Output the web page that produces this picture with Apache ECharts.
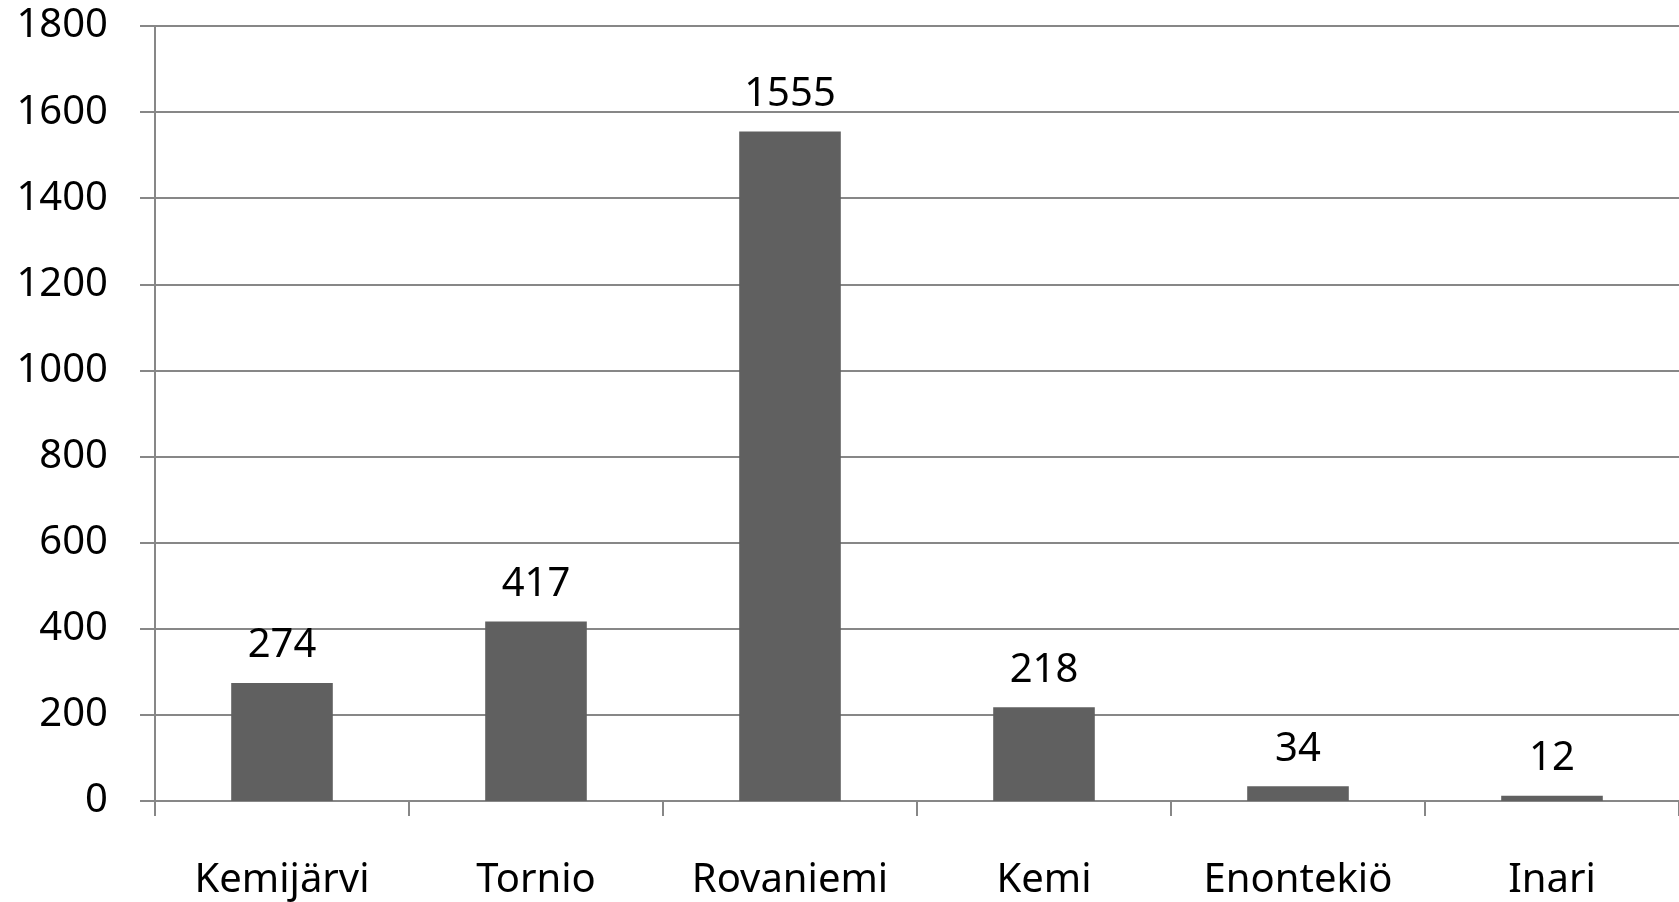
<!DOCTYPE html>
<html>
<head>
<meta charset="utf-8">
<style>
  html, body { margin: 0; padding: 0; background: #fff; }
  #chart { width: 1679px; height: 902px; }
</style>
<script src="https://cdn.jsdelivr.net/npm/echarts@6/dist/echarts.min.js"></script>
</head>
<body>
<div id="chart"></div>
<script>
const towns = ["Kemijärvi", "Tornio", "Rovaniemi", "Kemi", "Enontekiö", "Inari"];
const counts = [274, 417, 1555, 218, 34, 12];

const gridColor = "#878787";
const font = "'Noto Sans', sans-serif";

const chart = echarts.init(document.querySelector("#chart"), null, { renderer: "canvas" });

chart.setOption({
  animation: false,
  grid: { left: 155, right: 0, top: 26, bottom: 101, containLabel: false },
  xAxis: {
    type: "category",
    data: towns,
    axisLine: { lineStyle: { color: gridColor, width: 2 } },
    axisTick: { show: true, length: 15, interval: 0, lineStyle: { color: gridColor, width: 2 } },
    axisLabel: { color: "#000", fontFamily: font, fontSize: 40, margin: 60, interval: 0 },
  },
  yAxis: {
    type: "value",
    min: 0,
    max: 1800,
    interval: 200,
    axisLine: { show: true, lineStyle: { color: gridColor, width: 2 } },
    axisTick: { show: true, length: 15, lineStyle: { color: gridColor, width: 2 } },
    splitLine: { lineStyle: { color: gridColor, width: 2 } },
    axisLabel: {
      color: "#000",
      fontFamily: font,
      fontSize: 40,
      margin: 47,
      formatter: (v) => String(v),
    },
  },
  series: [
    {
      type: "bar",
      data: counts,
      barWidth: "40%",
      itemStyle: { color: "#606060" },
      label: {
        show: true,
        position: "top",
        distance: 17,
        color: "#000",
        fontFamily: font,
        fontSize: 40,
      },
    },
  ],
});
</script>
</body>
</html>
